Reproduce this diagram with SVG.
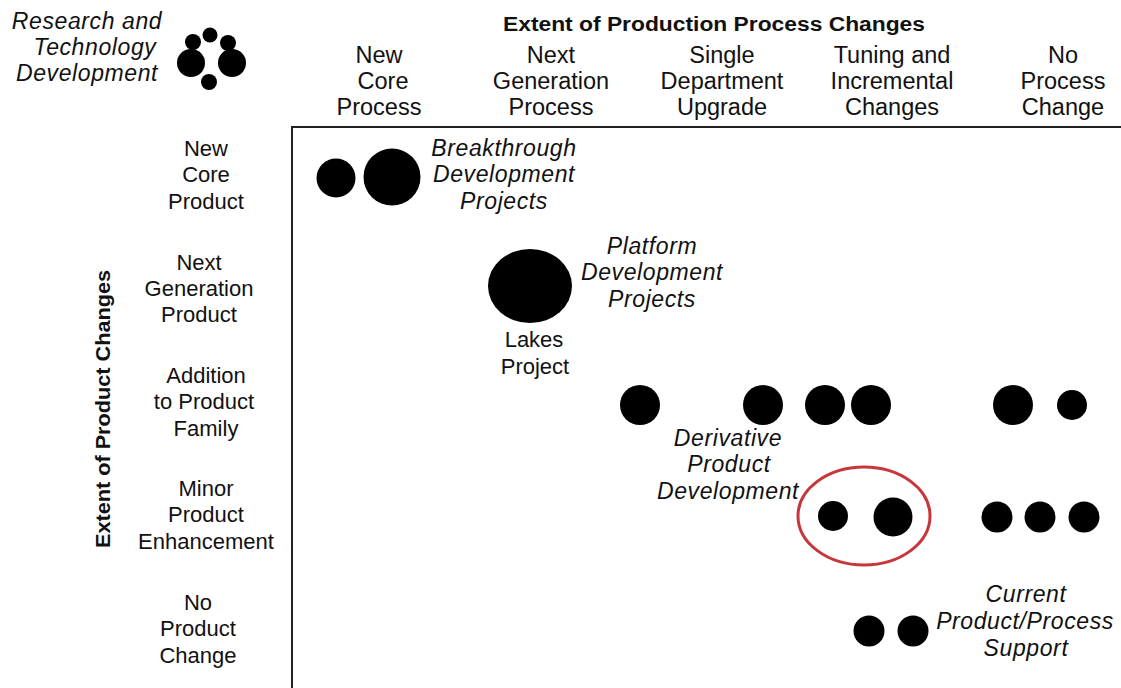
<svg xmlns="http://www.w3.org/2000/svg" width="1121" height="688" viewBox="0 0 1121 688">
  <style>
    text { font-family: "Liberation Sans", Arial, sans-serif; fill: #111; }
    .lbl { font-size: 22px; text-anchor: middle; }
    .col { font-size: 23.5px; text-anchor: middle; }
    .it { font-size: 23px; font-style: italic; text-anchor: middle; letter-spacing: 0.6px; }
    .axis-title { font-size: 20px; font-weight: bold; text-anchor: middle; }
    .dot { fill: #000; }
    .frame { stroke: #222; stroke-width: 2; fill: none; }
    .mark { fill: none; stroke: #c6363c; stroke-width: 3; }
  </style>
  <rect width="1121" height="688" fill="#fff"/>

  <!-- Legend: research and technology development -->
  <g id="rtd-legend">
    <text class="it" x="87" y="29">Research and</text>
    <text class="it" x="95" y="55">Technology</text>
    <text class="it" x="87" y="81">Development</text>
    <circle class="dot" cx="210" cy="35" r="7.5"/>
    <circle class="dot" cx="193" cy="42" r="8"/>
    <circle class="dot" cx="228" cy="43" r="8"/>
    <circle class="dot" cx="191" cy="63" r="14"/>
    <circle class="dot" cx="232" cy="63" r="14"/>
    <circle class="dot" cx="209" cy="82" r="8"/>
  </g>

  <!-- Horizontal axis: process changes -->
  <g id="process-axis">
    <text class="axis-title" x="714" y="31" textLength="422" lengthAdjust="spacingAndGlyphs">Extent of Production Process Changes</text>
    <text class="col" x="379" y="63">New</text>
    <text class="col" x="383" y="89">Core</text>
    <text class="col" x="379" y="115">Process</text>
    <text class="col" x="551" y="63">Next</text>
    <text class="col" x="551" y="89">Generation</text>
    <text class="col" x="551" y="115">Process</text>
    <text class="col" x="722" y="63">Single</text>
    <text class="col" x="722" y="89">Department</text>
    <text class="col" x="722" y="115">Upgrade</text>
    <text class="col" x="892" y="63">Tuning and</text>
    <text class="col" x="892" y="89">Incremental</text>
    <text class="col" x="892" y="115">Changes</text>
    <text class="col" x="1063" y="63">No</text>
    <text class="col" x="1063" y="89">Process</text>
    <text class="col" x="1063" y="115">Change</text>
  </g>

  <!-- Vertical axis: product changes -->
  <g id="product-axis">
    <text class="axis-title" transform="translate(110 409) rotate(-90)" textLength="278" lengthAdjust="spacingAndGlyphs">Extent of Product Changes</text>
    <text class="lbl" x="206" y="156">New</text>
    <text class="lbl" x="206" y="182">Core</text>
    <text class="lbl" x="206" y="209">Product</text>
    <text class="lbl" x="199" y="270">Next</text>
    <text class="lbl" x="199" y="296">Generation</text>
    <text class="lbl" x="199" y="322">Product</text>
    <text class="lbl" x="206" y="383">Addition</text>
    <text class="lbl" x="204" y="409">to Product</text>
    <text class="lbl" x="206" y="436">Family</text>
    <text class="lbl" x="206" y="496">Minor</text>
    <text class="lbl" x="206" y="522">Product</text>
    <text class="lbl" x="206" y="549">Enhancement</text>
    <text class="lbl" x="198" y="610">No</text>
    <text class="lbl" x="198" y="636">Product</text>
    <text class="lbl" x="198" y="663">Change</text>
  </g>

  <!-- Chart frame -->
  <g id="connectors">
    <path class="frame" d="M292 688 V127 H1121"/>
  </g>

  <!-- Breakthrough projects -->
  <g id="breakthrough">
    <circle class="dot" cx="336" cy="178" r="19.5"/>
    <circle class="dot" cx="392" cy="177" r="28.5"/>
    <text class="it" x="504" y="156">Breakthrough</text>
    <text class="it" x="504" y="182">Development</text>
    <text class="it" x="504" y="209">Projects</text>
  </g>

  <!-- Platform projects -->
  <g id="platform">
    <ellipse class="dot" cx="530" cy="286" rx="42" ry="37"/>
    <text class="it" x="652" y="254">Platform</text>
    <text class="it" x="652" y="280">Development</text>
    <text class="it" x="652" y="307">Projects</text>
    <text class="lbl" x="534" y="347">Lakes</text>
    <text class="lbl" x="535" y="374">Project</text>
  </g>

  <!-- Derivative projects -->
  <g id="derivative">
    <circle class="dot" cx="640" cy="405" r="20"/>
    <circle class="dot" cx="763" cy="405" r="20"/>
    <circle class="dot" cx="825" cy="405" r="20"/>
    <circle class="dot" cx="871" cy="405" r="20"/>
    <circle class="dot" cx="1013" cy="405" r="20"/>
    <circle class="dot" cx="1072" cy="405" r="15"/>
    <text class="it" x="728" y="446">Derivative</text>
    <text class="it" x="729" y="472">Product</text>
    <text class="it" x="728" y="499">Development</text>
    <circle class="dot" cx="833" cy="516" r="15"/>
    <circle class="dot" cx="893" cy="517" r="19.5"/>
    <circle class="dot" cx="997" cy="517" r="15.5"/>
    <circle class="dot" cx="1040" cy="517" r="15.5"/>
    <circle class="dot" cx="1084" cy="517" r="15.5"/>
  </g>

  <!-- Highlighted pair -->
  <g id="highlight">
    <ellipse class="mark" cx="864" cy="516" rx="66" ry="49"/>
  </g>

  <!-- Support projects -->
  <g id="support">
    <circle class="dot" cx="869" cy="631" r="15.5"/>
    <circle class="dot" cx="913" cy="631" r="15.5"/>
    <text class="it" x="1026" y="602">Current</text>
    <text class="it" x="1025" y="629">Product/Process</text>
    <text class="it" x="1026" y="656">Support</text>
  </g>
</svg>
